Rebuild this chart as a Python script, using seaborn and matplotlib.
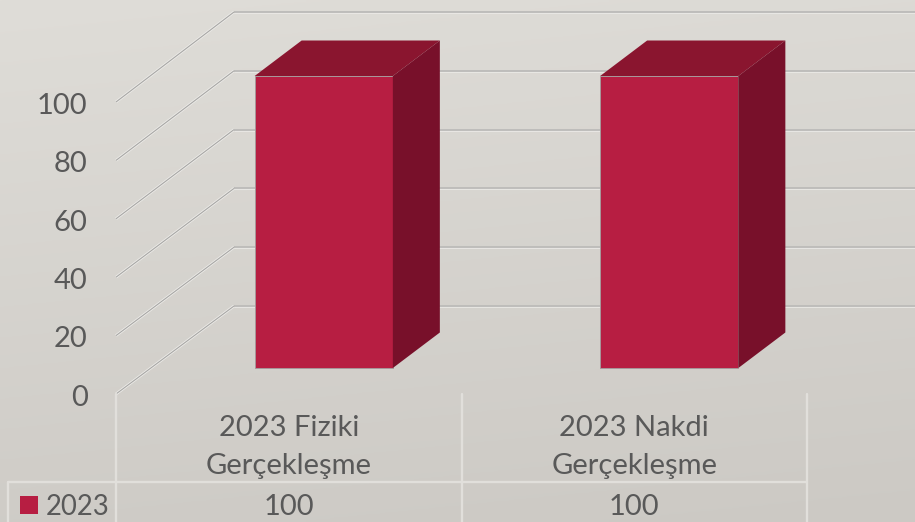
import numpy as np
import pandas as pd
import matplotlib
matplotlib.use("Agg")
import matplotlib.pyplot as plt
from matplotlib.lines import Line2D
from matplotlib.patches import Rectangle
from matplotlib.transforms import ScaledTranslation
import seaborn as sns

categories = ["2023 Fiziki\nGerçekleşme", "2023 Nakdi\nGerçekleşme"]
values = [100, 100]
series_name = "2023"
y_ticks = [0, 20, 40, 60, 80, 100]

FRONT, TOP, SIDE = "#B71E42", "#8A152F", "#78102A"
TEXT = "#595959"
W, H = 915, 522
FS = 21.0

sns.set_theme(style="white")
plt.rcParams["font.family"] = ["Lato", "DejaVu Sans"]
plt.rcParams["font.size"] = FS

fig = plt.figure(figsize=(W / 100, H / 100), dpi=100)

# diagonal background gradient
bg = fig.add_axes([0, 0, 1, 1], zorder=0)
gx, gy = np.meshgrid(np.linspace(0, 1, 200), np.linspace(0, 1, 200))
t = 0.85 * gy + 0.15 * gx
c0, c1 = np.array([223, 221, 216]) / 255, np.array([204, 201, 196]) / 255
bg.imshow(c0 + (c1 - c0) * t[..., None], aspect="auto", extent=(0, 1, 0, 1), origin="upper")
bg.axis("off")

px = lambda x, y: (x / W, 1 - y / H)
ax = fig.add_axes([116 / W, (H - 394) / H, 691 / W, 292 / H], zorder=1)
ax.patch.set_alpha(0)

df = pd.DataFrame({"category": categories, "value": values})
sns.barplot(data=df, x="category", y="value", color=FRONT, saturation=1, width=0.4, ax=ax, zorder=5)
ax.set_xlim(-0.5, 1.5)
ax.set_ylim(0, 100)

# 3D geometry, expressed in data units
to_x, to_y = 691 / 2, 292 / 100
BAR_SHIFT = (35 / to_x, 26 / to_y)
BAR_DEPTH = (47 / to_x, 35.5 / to_y)
WALL_X = 118 / to_x
WALL_Y = 88 / to_y
WALL_SCALE = 294 / 292

# walls: diagonal and horizontal grid lines
for v in y_ticks:
    back = v * WALL_SCALE + WALL_Y
    xs = [-0.5, -0.5 + WALL_X, 3]
    ys = [v, back, back]
    ax.plot(xs[:2], ys[:2], color="#EDECE9", lw=2.0, clip_on=False, zorder=1, solid_capstyle="butt")
    ax.plot(xs[:2], ys[:2], color="#A8A7A5", lw=0.8, clip_on=False, zorder=2, solid_capstyle="butt")
    ax.plot(xs[1:], ys[1:], color="#EDECE9", lw=1.8, clip_on=False, zorder=1, solid_capstyle="butt")
    ax.plot(xs[1:], ys[1:], color="#B2B1AF", lw=1.1, clip_on=False, zorder=2, solid_capstyle="butt")

# bars: shift the seaborn faces into the scene and add the top and side faces
for bar in [p for p in ax.patches if isinstance(p, Rectangle)]:
    bar.set_x(bar.get_x() + BAR_SHIFT[0])
    bar.set_y(bar.get_y() + BAR_SHIFT[1])
    bar.set_clip_on(False)
    bar.set_edgecolor("#A8979A")
    bar.set_linewidth(0.7)
    x0, y0 = bar.get_x(), bar.get_y()
    x1, y1 = x0 + bar.get_width(), y0 + bar.get_height()
    dx, dy = BAR_DEPTH
    ax.fill([x0, x1, x1 + dx, x0 + dx], [y1, y1, y1 + dy, y1 + dy], color=TOP, lw=0, clip_on=False, zorder=4)
    ax.fill([x1, x1 + dx, x1 + dx, x1], [y0, y0 + dy, y1 + dy, y1], color=SIDE, lw=0, clip_on=False, zorder=6)

ax.set_xlabel("")
ax.set_ylabel("")
ax.set_yticks(y_ticks)
ax.set_yticklabels([str(v) for v in y_ticks], color=TEXT, fontsize=FS)
ax.tick_params(axis="y", length=0, pad=20.5)
ax.set_xticks(range(len(categories)))
ax.set_xticklabels(categories, color=TEXT, fontsize=FS, linespacing=1.6)
ax.tick_params(axis="x", length=0, pad=15)
sns.despine(ax=ax, left=True, bottom=True)
ax.grid(False)
down = ScaledTranslation(0, -1.0 / 72, fig.dpi_scale_trans)
for lab in ax.get_yticklabels():
    lab.set_transform(lab.get_transform() + down)

# data table under the chart
TABLE = "#E1DFDB"
def tline(x0, y0, x1, y1):
    (a, b), (c, d) = px(x0, y0), px(x1, y1)
    fig.add_artist(Line2D([a, c], [b, d], color=TABLE, lw=1.7, zorder=3))
for xv in (116, 462, 807):
    tline(xv, 394, xv, 522)
tline(8, 482, 8, 522)
tline(8, 482, 807, 482)

fig.patches.append(Rectangle(px(20, 514), 18 / W, 18 / H, transform=fig.transFigure, color=FRONT, lw=0, zorder=4))
fig.patches[-1].set_figure(fig)
fig.text(*px(46, 507), series_name, color=TEXT, fontsize=19.8, ha="left", va="center", zorder=4)
for i, v in enumerate(values):
    xd = ax.transData.transform((i, 0))[0] / W
    fig.text(xd, px(0, 507)[1], str(v), color=TEXT, fontsize=FS, ha="center", va="center", zorder=4)

fig.savefig("out.png", dpi=100)
